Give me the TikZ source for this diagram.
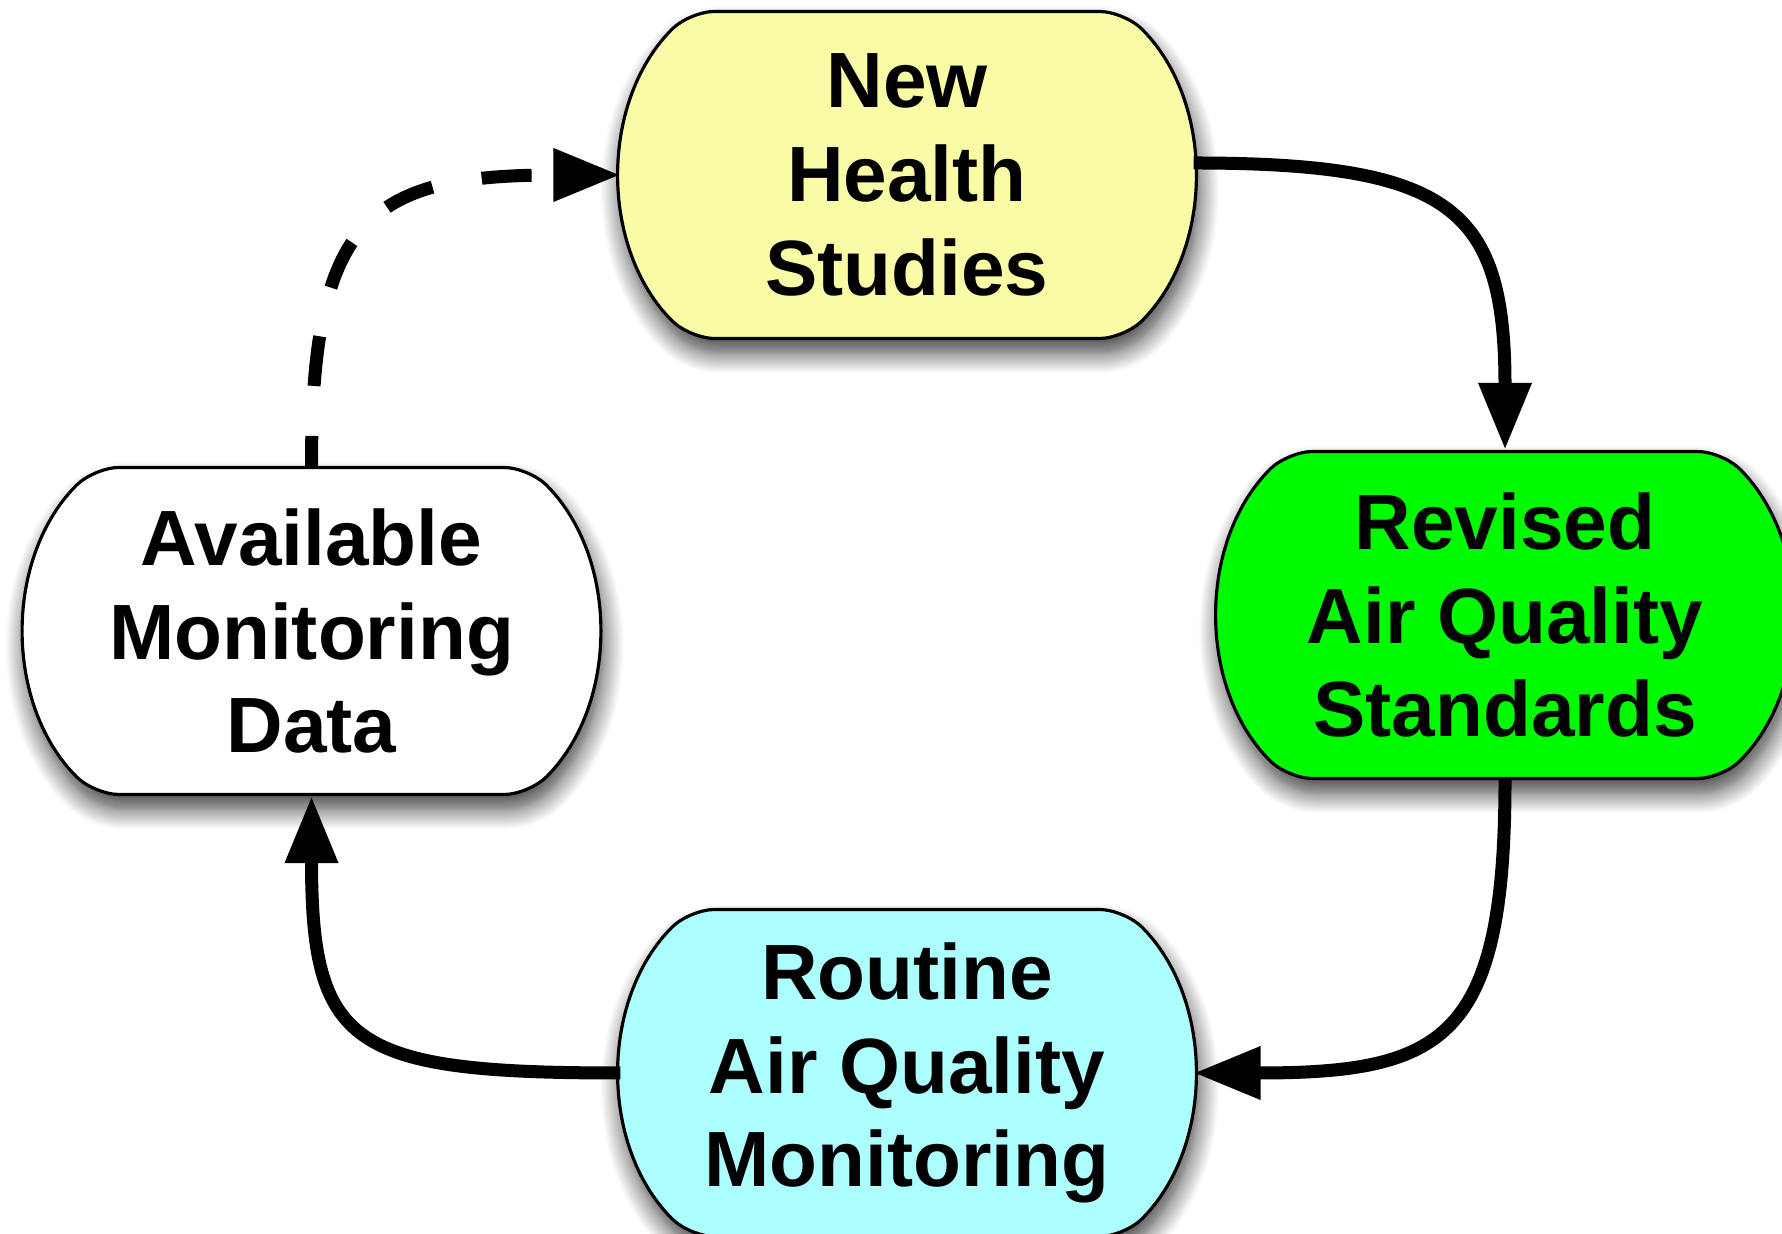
\documentclass[tikz,border=0pt]{standalone}
\usepackage{fontspec}
\setmainfont{Liberation Sans}
\usetikzlibrary{shapes.misc,arrows.meta,shadows.blur}
\definecolor{HealthYellow}{RGB}{250,252,165}
\definecolor{StandardsGreen}{RGB}{0,250,0}
\definecolor{RoutineCyan}{RGB}{173,255,255}

\begin{document}
\begin{tikzpicture}[
        Stage/.style={rounded rectangle, rounded rectangle arc length=90,
            rounded corners=0.25cm,
            draw=black, line width=0.9pt, inner sep=0pt,
            minimum width=5.7cm, minimum height=3.27cm, align=center,
            font=\fontsize{22.3}{26.7}\selectfont\bfseries,
            blur shadow={shadow xshift=0.03cm, shadow yshift=-0.15cm,
                shadow blur radius=0.2cm, shadow opacity=75, shadow blur steps=12}},
        Flow/.style={line width=0.13cm, sharp corners, -{Triangle[length=0.67cm,width=0.5cm]}},
        Feedback/.style={Flow, dash pattern=on 0.5cm off 0.5cm, dash phase=0.2cm},
    ]
        \useasboundingbox (0,0) rectangle (17.82,12.33);

        \node[Stage, fill=HealthYellow] (health) at (9.07,10.58) {New\\Health\\Studies};
        \node[Stage, fill=StandardsGreen] (standards) at (15.05,6.18) {Revised\\Air Quality\\Standards};
        \node[Stage, fill=RoutineCyan] (routine) at (9.07,1.60) {Routine\\Air Quality\\Monitoring};
        \node[Stage, fill=white] (available) at (3.115,6.02) {Available\\Monitoring\\Data};

        \draw[Flow] ([yshift=0.12cm]health.east) .. controls +(2.6,0) and +(0,2.4) .. (standards.north);
        \draw[Flow] (standards.south) .. controls +(0,-2.6) and +(2.5,0) .. (routine.east);
        \draw[Flow] (routine.west) .. controls +(-2.7,0) and +(0,-2.5) .. (available.south);
        \draw[Feedback] (available.north) .. controls +(0,2.5) and +(-2.5,0) .. (health.west);
    \end{tikzpicture}
\end{document}
